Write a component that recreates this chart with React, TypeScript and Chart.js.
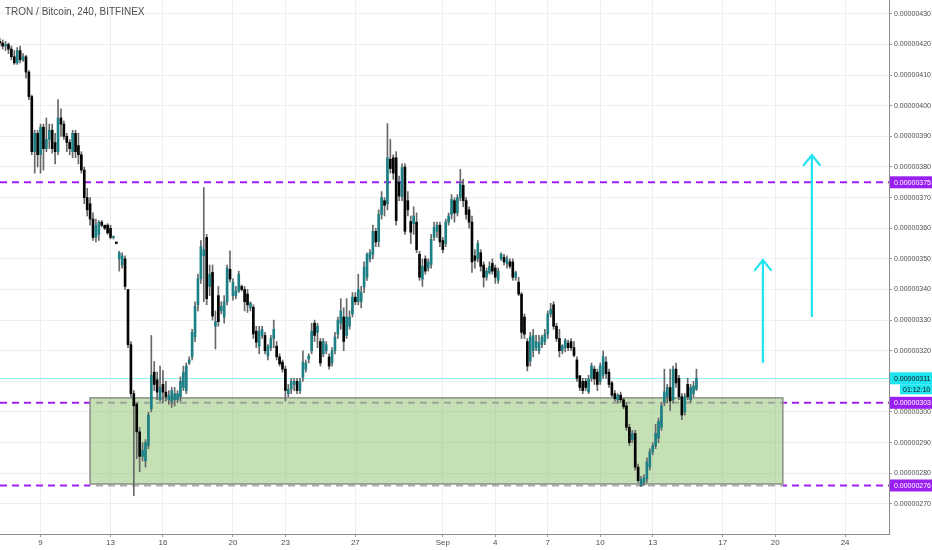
import React, { useEffect, useRef } from "react";
import { Chart, registerables } from "chart.js";

Chart.register(...registerables);

// ---- text ----
const TITLE = "TRON / Bitcoin, 240, BITFINEX";

// ---- time axis (days since Aug 1 00:00) ----
const FIRST_CANDLE_DAY = 5 + 16 / 24; // Aug 6, 16:00
const CANDLE_STEP_DAYS = 4 / 24; // 240 minutes
const X_MIN_DAY = 5.682;
const X_MAX_DAY = 56.51;
const X_TICK_DAYS = [8, 12, 15, 19, 22, 26, 31, 34, 37, 40, 43, 47, 50, 54];
const X_TICK_LABELS = ["9", "13", "16", "20", "23", "27", "Sep", "4", "7", "10", "13", "17", "20", "24"];

// ---- price axis (units of 1e-8 BTC) ----
const Y_MIN = 260.16;
const Y_MAX = 434.53;
const Y_TICKS = [270, 280, 290, 300, 310, 320, 330, 340, 350, 360, 370, 380, 390, 400, 410, 420, 430];

// ---- candles (x1e-8) ----
const OPEN = [
  421, 420.5, 419.5, 420, 418.5, 416, 414, 418, 415, 416, 411, 403, 385, 391, 384, 393, 386, 389, 392, 388,
  385, 396, 394, 390, 388, 385, 391, 387, 384, 379, 370, 368, 363, 357, 358, 362, 361, 361, 360, 357,
  355.5, 350, 348, 350, 340, 322, 306, 302.6, 293.5, 285.5, 284, 289, 301, 313, 310.5, 304, 309, 306.5, 304, 303.5,
  304, 304, 305, 308, 307, 316, 318, 324.5, 335, 343.5, 351, 357, 341, 345.6, 328, 338, 333, 331, 336, 346.6,
  338, 338, 339.5, 341, 340, 338.5, 334, 334.2, 326.4, 321.5, 325, 325, 318.3, 321, 324, 321.5, 318, 316.3, 314, 306,
  307.5, 309, 310, 307, 311.4, 314, 317.3, 320, 329, 326, 323, 319, 320, 318, 316, 320, 325.4, 329, 331, 325,
  328, 332, 337.5, 336, 336, 340.8, 344, 350, 351.5, 359, 355.7, 364.5, 369, 368, 382.5, 383, 383, 375, 370.4, 380,
  369, 362.2, 361.5, 362, 351.5, 343.4, 350, 347, 348.2, 357, 359, 361, 356, 355, 362, 364.5, 369, 365, 370, 374,
  369, 366, 362, 351, 350, 352, 348, 344, 345.5, 348.5, 347, 343, 350, 350.5, 348.5, 349, 349, 344, 342.4, 338.5,
  331, 323, 316.6, 320, 321, 320, 322, 323, 325.4, 332, 335, 328, 324, 320, 321, 322.5, 323, 321, 317, 311.8,
  310, 310, 306.6, 311, 314, 313, 310, 312, 316.3, 313, 309.5, 306, 304, 305.5, 304, 302, 295, 291, 293, 282,
  276, 277, 278.2, 282, 287, 289, 291.5, 295, 303.3, 305, 308, 304, 314, 311, 305, 300, 309, 304, 306, 307.5,
];
const HIGH = [
  422, 421.5, 421, 420.5, 419.5, 418, 419, 419.5, 417, 416.5, 411.5, 403.5, 392, 392, 394, 394, 396, 394, 394, 391,
  402, 399, 395, 391, 389, 392, 392, 391, 385, 380, 373, 370, 365, 363, 362.5, 362.5, 361, 361.5, 361, 357.5,
  355.5, 352.5, 352, 351, 340, 323, 307, 303, 295, 290, 291, 300, 325, 316.5, 313, 315, 313.5, 310, 307, 308,
  308, 307, 311.5, 315, 316, 318, 327, 336, 345, 356, 373.3, 358, 348, 348, 333, 341, 336, 338, 348, 352.6,
  343.5, 341, 346, 341.5, 341, 340, 336, 335, 328, 328, 328, 326, 322, 325, 330, 323, 319, 317, 315, 309,
  311, 311, 311, 311, 320, 317, 319, 329, 330, 329, 324, 324, 323, 319, 321, 326, 331, 337, 334, 337,
  333, 339, 339, 345, 341, 349, 352, 353, 361, 360, 366, 372, 370, 394.2, 389, 384, 385, 377, 381, 381,
  372, 364, 367, 365, 352.5, 350, 351, 350, 358, 362, 362, 362, 357, 363, 365, 371, 370, 371, 379.2, 376,
  370, 367, 364, 353, 356, 353, 349, 347, 349, 350, 348, 347, 352, 351.5, 351, 350, 350, 346, 344, 339,
  332, 324, 326, 327, 325, 325, 325, 327, 333, 335.5, 336, 329, 327, 322, 324, 323.5, 324, 323, 318, 312,
  311, 311, 312, 316, 315, 314, 316, 320, 318, 314, 310, 307, 306, 306.5, 304.5, 303, 296, 294, 294, 283,
  279, 279.5, 285, 288, 290, 296, 298, 303, 314, 309, 314, 315, 316, 312, 306, 306, 311, 309, 310, 314,
];
const LOW = [
  419.5, 418.5, 418, 417, 415, 413.5, 413.5, 414, 414.5, 409, 402, 384, 378, 380, 378, 379, 385, 386, 384.5, 381,
  384, 390, 389, 385, 384, 383, 383, 381, 378, 368, 364, 361, 356, 355.5, 356, 360.5, 359.5, 358, 356.5, 356.5,
  355, 346, 347, 340, 321, 305, 272.7, 284.7, 280.5, 284, 282, 288, 300, 307, 304, 303.5, 303, 303.5, 302.5, 301.5,
  302, 303, 303.5, 307, 306, 315.5, 317, 323, 333, 342, 336, 335, 338, 330, 320.6, 328, 332, 329, 335, 342.5,
  336.5, 337, 339, 339.5, 333, 332.5, 333, 324, 321, 319, 324, 319, 317, 320, 321, 317, 315, 313, 303.6, 305,
  306, 307, 306, 306, 310, 313, 316, 319, 323, 321, 315, 318, 319, 314, 315, 319, 324, 327, 320, 324,
  327, 331, 335, 335, 334, 339, 343, 349, 350, 354, 354, 363, 364, 366, 378, 376, 361, 369, 369, 358,
  364, 355, 358, 352, 343, 341, 345, 346, 347, 356, 357, 354, 352, 354, 361, 363, 362, 364, 369, 367,
  363, 360, 345.6, 347, 349, 346, 340.8, 343, 345, 345, 342, 342, 349.5, 348, 347, 347, 343, 343, 338, 324,
  324, 313.4, 315, 318, 320, 319, 321, 322, 324, 331, 327, 323, 318, 319, 319.6, 320, 320, 318, 310, 307,
  306, 307, 306, 310, 309, 307, 309, 311, 311, 308, 305, 303.5, 303, 303, 301, 294, 289, 290, 281, 277,
  275.6, 276, 277, 281, 286, 288, 290, 294, 302, 303, 300.5, 303, 308, 304, 297.5, 299, 304, 303, 305, 307,
];
const CLOSE = [
  420.5, 419.5, 420, 418.5, 416, 414, 418, 415, 416, 411, 403, 385, 391, 384, 393, 386, 389, 392, 386, 385,
  396, 394, 390, 388, 386, 391, 385, 384, 379, 370, 366, 363, 357, 361, 362, 361, 360, 358.5, 357, 357,
  355, 352, 351, 341, 322, 306, 302, 293.5, 285.5, 287.5, 290, 299, 312, 309, 306.5, 308, 306.5, 305, 305.5, 307,
  306, 306, 310, 313, 315, 317, 326, 334.5, 343.5, 354, 353, 337, 345, 331.3, 329.5, 329.5, 334.5, 336, 347, 343.4,
  342.4, 339.5, 345, 340, 336, 335, 335.5, 325.5, 322.8, 326.4, 327, 320, 321.5, 324, 327, 318, 315.7, 314, 307, 307.5,
  310, 310, 307, 310, 316.3, 316, 318.3, 326.4, 325, 328, 316, 323, 322, 315, 320, 324.5, 330, 333, 323, 331,
  331, 337.5, 336, 340, 339, 347.3, 351.5, 352, 359, 355.5, 364.5, 370, 367.5, 383, 379.5, 378, 362.5, 370.5, 379.8, 359,
  366, 358.7, 364, 353, 344, 347.6, 346, 349, 356.4, 360.3, 361, 355.5, 353, 362, 364, 369.4, 365, 370, 374.5, 369,
  364.5, 362, 349, 349.5, 355, 347.6, 344, 346, 347.5, 346, 344, 346, 351.5, 349, 350, 347.6, 344, 345.5, 338.5, 326,
  325.4, 315, 324.5, 325, 323, 322.7, 324.5, 325.4, 332, 333.5, 328, 324, 320, 321.6, 323.4, 321, 321, 318.5, 311, 308,
  307, 308, 310.8, 315, 310.8, 309, 315, 318, 312.5, 309, 305.5, 304.3, 305.5, 304, 301.7, 295, 290, 293, 282, 277.6,
  278, 278.5, 283.7, 287, 289, 293, 297, 302, 306.6, 308, 303.6, 314, 309.5, 305, 299, 305, 305, 308, 308.5, 311,
];

// ---- drawings ----
const LEVEL_PRICES = [375, 303, 276];
const LEVEL_LABELS = ["0.00000375", "0.00000303", "0.00000276"];
const CURRENT_PRICE = 311;
const CURRENT_LABEL = "0.00000311";
const COUNTDOWN_LABEL = "01:12:10";
const ZONE_DAYS = [10.83, 50.44];
const ZONE_PRICES = [276.5, 304.6];
const ARROW_DAYS = [49.3, 52.1];
const ARROW_FROM = [316.3, 331.3];
const ARROW_TO = [349.6, 383.9];

const UP = "#1d8086";
const DOWN = "#050505";
const WICK = "#686868";
const PURPLE = "#9a1ff2";
const CYAN = "#20e4ef";
const GRID = "#e9eff3";
const FONT = "'Liberation Sans', Arial, sans-serif";

const overlayPlugin = {
  id: "tvOverlay",
  beforeDatasetsDraw(chart: any) {
    const { ctx, chartArea: a, scales } = chart;
    const xs = scales.x;
    const ys = scales.y;
    const zx0 = xs.getPixelForValue(ZONE_DAYS[0]);
    const zx1 = xs.getPixelForValue(ZONE_DAYS[1]);
    const zyTop = ys.getPixelForValue(ZONE_PRICES[1]);
    const zyBot = ys.getPixelForValue(ZONE_PRICES[0]);
    const inZone = (p: number) => p >= ZONE_PRICES[0] - 1 && p <= ZONE_PRICES[1] + 1;
    ctx.save();
    ctx.beginPath();
    ctx.rect(a.left, a.top, a.right - a.left, a.bottom - a.top);
    ctx.clip();

    // current price line
    const cy = Math.round(ys.getPixelForValue(CURRENT_PRICE)) + 0.5;
    ctx.strokeStyle = "#8ff0f5";
    ctx.lineWidth = 1;
    ctx.beginPath();
    ctx.moveTo(a.left, cy);
    ctx.lineTo(a.right, cy);
    ctx.stroke();

    const dashed = (p: number) => {
      const y = ys.getPixelForValue(p);
      ctx.beginPath();
      ctx.moveTo(a.left, y);
      ctx.lineTo(a.right, y);
      ctx.stroke();
    };

    // purple dashed levels
    ctx.strokeStyle = PURPLE;
    ctx.lineWidth = 2;
    ctx.setLineDash([7, 5]);
    LEVEL_PRICES.filter((p) => !inZone(p)).forEach(dashed);
    ctx.save();
    ctx.beginPath();
    ctx.rect(a.left, a.top, zx0 - a.left, a.bottom - a.top);
    ctx.rect(zx1, a.top, a.right - zx1, a.bottom - a.top);
    ctx.clip();
    LEVEL_PRICES.filter(inZone).forEach(dashed);
    ctx.restore();

    // zone box
    ctx.setLineDash([]);
    ctx.fillStyle = "rgba(140,193,108,0.5)";
    ctx.fillRect(zx0, zyTop, zx1 - zx0, zyBot - zyTop);
    // gray dashed levels inside zone
    ctx.save();
    ctx.beginPath();
    ctx.rect(zx0, a.top, zx1 - zx0, a.bottom - a.top);
    ctx.clip();
    ctx.strokeStyle = "rgba(150,150,150,0.8)";
    ctx.lineWidth = 2;
    ctx.setLineDash([7, 5]);
    LEVEL_PRICES.filter(inZone).forEach(dashed);
    ctx.restore();
    ctx.setLineDash([]);
    ctx.strokeStyle = "#8a8f86";
    ctx.lineWidth = 1.5;
    ctx.strokeRect(zx0, zyTop, zx1 - zx0, zyBot - zyTop);
    ctx.restore();
  },
  afterDatasetsDraw(chart: any) {
    const { ctx, scales } = chart;
    const xs = scales.x;
    const ys = scales.y;
    ctx.save();
    ctx.strokeStyle = CYAN;
    ctx.lineWidth = 2.2;
    ctx.lineCap = "round";
    ARROW_DAYS.forEach((d, i) => {
      const x = xs.getPixelForValue(d);
      const y0 = ys.getPixelForValue(ARROW_FROM[i]);
      const y1 = ys.getPixelForValue(ARROW_TO[i]);
      ctx.beginPath();
      ctx.moveTo(x, y0);
      ctx.lineTo(x, y1);
      ctx.moveTo(x - 8, y1 + 10);
      ctx.lineTo(x, y1);
      ctx.lineTo(x + 8, y1 + 10);
      ctx.stroke();
    });
    ctx.restore();
  },
  afterDraw(chart: any) {
    const { ctx, chartArea: a, scales } = chart;
    const ys = scales.y;
    const x0 = a.right + 1;
    const w = chart.width - x0;
    ctx.save();
    ctx.textBaseline = "middle";
    ctx.textAlign = "left";
    ctx.font = `7px ${FONT}`;
    LEVEL_PRICES.forEach((p, i) => {
      const y = ys.getPixelForValue(p);
      ctx.fillStyle = PURPLE;
      ctx.fillRect(x0, y - 6, w, 12);
      ctx.fillStyle = "#ffffff";
      ctx.fillText(LEVEL_LABELS[i], x0 + 4, y + 0.5);
    });
    const cy = ys.getPixelForValue(CURRENT_PRICE);
    ctx.fillStyle = CYAN;
    ctx.fillRect(x0, cy - 6, w, 12);
    ctx.fillRect(x0 + 10, cy + 6, w - 10, 10);
    ctx.fillStyle = "#111111";
    ctx.fillText(CURRENT_LABEL, x0 + 4, cy + 0.5);
    ctx.fillText(COUNTDOWN_LABEL, x0 + 13, cy + 11.5);

    // title
    ctx.fillStyle = "#4d4d4d";
    ctx.font = `10px ${FONT}`;
    ctx.fillText(TITLE, 5, 12);
    ctx.restore();
  },
};

export default function App() {
  const canvasRef = useRef<HTMLCanvasElement | null>(null);

  useEffect(() => {
    const canvas = canvasRef.current;
    if (!canvas) return;
    const xs = CLOSE.map((_, i) => FIRST_CANDLE_DAY + i * CANDLE_STEP_DAYS);
    const bodies = CLOSE.map((c, i) => ({ x: xs[i], y: [OPEN[i], c] }));
    const wicks = CLOSE.map((_, i) => ({ x: xs[i], y: [LOW[i], HIGH[i]] }));
    const bodyColors = CLOSE.map((c, i) => (c >= OPEN[i] ? UP : DOWN));

    const chart = new Chart(canvas, {
      type: "bar",
      data: {
        datasets: [
          {
            label: "body",
            data: bodies as any,
            backgroundColor: bodyColors,
            borderWidth: 0,
            barThickness: 2,
            minBarLength: 1,
            grouped: false,
            order: 0,
          } as any,
          {
            label: "wick",
            data: wicks as any,
            backgroundColor: WICK,
            borderWidth: 0,
            barThickness: 1,
            grouped: false,
            order: 1,
          } as any,
        ],
      },
      options: {
        animation: false,
        responsive: true,
        maintainAspectRatio: false,
        layout: { padding: 0 },
        plugins: {
          legend: { display: false },
          tooltip: { enabled: false },
          title: { display: false },
        },
        scales: {
          x: {
            type: "linear",
            min: X_MIN_DAY,
            max: X_MAX_DAY,
            offset: false,
            afterBuildTicks: (scale: any) => {
              scale.ticks = X_TICK_DAYS.map((v) => ({ value: v }));
            },
            afterFit: (scale: any) => {
              scale.height = 16;
              scale.paddingLeft = 0;
              scale.paddingRight = 0;
            },
            ticks: {
              autoSkip: false,
              maxRotation: 0,
              padding: 1,
              color: "#4d4d4d",
              font: { family: FONT, size: 8 },
              callback: (v: any) => X_TICK_LABELS[X_TICK_DAYS.indexOf(Number(v))] ?? "",
            },
            grid: { color: GRID, lineWidth: 1, tickLength: 3, tickColor: "#9a9a9a", offset: false },
            border: { color: "#8c8c8c", width: 1 },
          },
          y: {
            type: "linear",
            position: "right",
            min: Y_MIN,
            max: Y_MAX,
            afterBuildTicks: (scale: any) => {
              scale.ticks = Y_TICKS.map((v) => ({ value: v }));
            },
            afterFit: (scale: any) => {
              scale.width = 43;
              scale.paddingTop = 0;
              scale.paddingBottom = 0;
            },
            ticks: {
              padding: 2,
              color: "#4d4d4d",
              font: { family: FONT, size: 7 },
              callback: (v: any) => (Number(v) / 1e8).toFixed(8),
            },
            grid: { color: GRID, lineWidth: 1, tickLength: 3, tickColor: "#9a9a9a" },
            border: { color: "#8c8c8c", width: 1 },
          },
        },
      },
      plugins: [overlayPlugin],
    });
    return () => chart.destroy();
  }, []);

  return (
    <div style={{ position: "absolute", left: 0, top: 0, width: 932, height: 550, background: "#ffffff" }}>
      <canvas ref={canvasRef} />
    </div>
  );
}
